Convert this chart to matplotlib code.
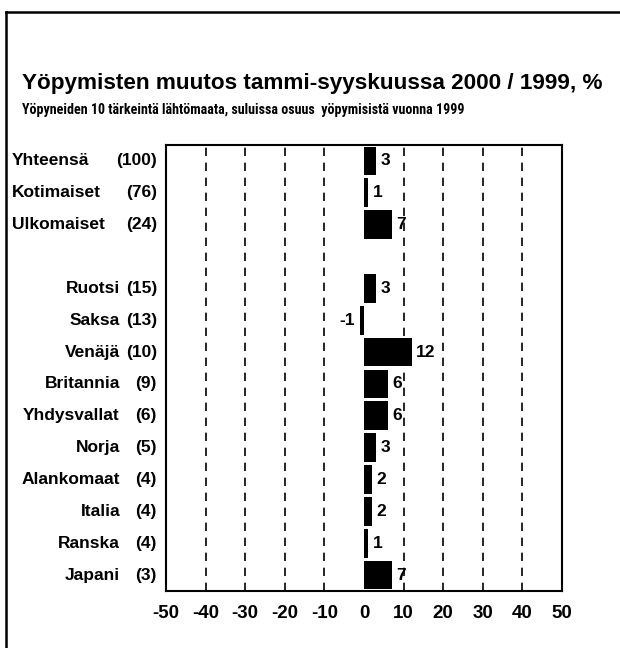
import matplotlib
matplotlib.use("Agg")
import matplotlib.pyplot as plt
import matplotlib.transforms as mtransforms
from matplotlib import font_manager
from matplotlib.font_manager import FontProperties
from matplotlib.lines import Line2D

# ---- data ----
names = ["Yhteensä", "Kotimaiset", "Ulkomaiset", "", "Ruotsi", "Saksa", "Venäjä",
         "Britannia", "Yhdysvallat", "Norja", "Alankomaat", "Italia", "Ranska", "Japani"]
shares = ["(100)", "(76)", "(24)", "", "(15)", "(13)", "(10)", "(9)", "(6)", "(5)",
          "(4)", "(4)", "(4)", "(3)"]
values = [3, 1, 7, None, 3, -1, 12, 6, 6, 3, 2, 2, 1, 7]
xticks = [-50, -40, -30, -20, -10, 0, 10, 20, 30, 40, 50]
title = "Yöpymisten muutos tammi-syyskuussa 2000 / 1999, %"
subtitle = "Yöpyneiden 10 tärkeintä lähtömaata, suluissa osuus  yöpymisistä vuonna 1999"

BASE = "Liberation Sans"

# look for a bold condensed face for the subtitle
cands = []
for f in font_manager.fontManager.ttflist:
    try:
        w = int(f.weight)
    except Exception:
        w = 700 if "bold" in str(f.weight).lower() else 400
    cond = ("Narrow" in f.name or "Condensed" in f.name or
            str(f.stretch) in ("condensed", "semi-condensed", "extra-condensed"))
    if cond and w >= 600 and f.style == "normal":
        cands.append(f)
prio = ["Liberation Sans Narrow", "Roboto Condensed", "Noto Sans", "DejaVu Sans", "Open Sans"]
cands.sort(key=lambda f: prio.index(f.name) if f.name in prio else len(prio))
if cands:
    sub_fp = FontProperties(fname=cands[0].fname)
else:
    sub_fp = FontProperties(family=BASE, weight="bold")

W, H = 620, 648
fig = plt.figure(figsize=(W / 100, H / 100), dpi=100)
fig.patch.set_facecolor("white")

# outer frame (left and top edges visible)
fig.add_artist(Line2D([6 / W, 6 / W], [0, 1 - 12 / H], transform=fig.transFigure,
                      color="black", lw=1.8))
fig.add_artist(Line2D([6 / W, 1], [1 - 12 / H, 1 - 12 / H], transform=fig.transFigure,
                      color="black", lw=1.8))

t1 = fig.text(22 / W, 1 - 84 / H, title, fontsize=16, fontweight="bold", family=BASE,
              va="center", ha="left")
t2 = fig.text(22 / W, 1 - 110 / H, subtitle, fontproperties=sub_fp, va="center", ha="left")
t2.set_fontsize(11)

# fit text widths to reference
renderer = fig.canvas.get_renderer()
for t, target, maxsize in ((t1, 578, 17), (t2, 438, 12)):
    wpx = t.get_window_extent(renderer).width
    t.set_fontsize(min(maxsize, t.get_fontsize() * target / wpx))

ax_l, ax_r, ax_t, ax_b = 166, 562, 145, 591
ax = fig.add_axes([ax_l / W, 1 - ax_b / H, (ax_r - ax_l) / W, (ax_b - ax_t) / H])
n = len(names)
ys = list(range(n))
for y, v in zip(ys, values):
    if v is None:
        continue
    ax.barh(y, v, height=0.9, color="black", left=0)
    if v >= 0:
        ax.text(v + 1.2, y, str(v), va="center", ha="left", fontsize=12.5,
                fontweight="bold", family=BASE)
    else:
        ax.text(v - 1.2, y, str(v), va="center", ha="right", fontsize=12.5,
                fontweight="bold", family=BASE)

ax.set_xlim(-50, 50)
ax.set_ylim(n - 0.5, -0.5)
for xv in xticks[1:-1]:
    if xv == 0:
        continue
    ax.axvline(xv, color="black", lw=1.2, ls=(0, (5, 4)), zorder=0)
ax.set_yticks([])
ax.set_xticks(xticks)
ax.set_xticklabels([str(t) for t in xticks], fontsize=13.5, fontweight="bold", family=BASE)
ax.tick_params(axis="x", length=0, pad=10)
for s in ax.spines.values():
    s.set_linewidth(1.5)

tr = mtransforms.blended_transform_factory(fig.transFigure, ax.transData)
for i, (nm, sh) in enumerate(zip(names, shares)):
    if not nm:
        continue
    if i < 3:
        ax.text(12 / W, i, nm, transform=tr, ha="left", va="center", fontsize=12.5,
                fontweight="bold", family=BASE)
    else:
        ax.text(120 / W, i, nm, transform=tr, ha="right", va="center", fontsize=12.5,
                fontweight="bold", family=BASE)
    ax.text(157 / W, i, sh, transform=tr, ha="right", va="center", fontsize=12.5,
            fontweight="bold", family=BASE)

fig.savefig("out.png", dpi=100, facecolor="white")
